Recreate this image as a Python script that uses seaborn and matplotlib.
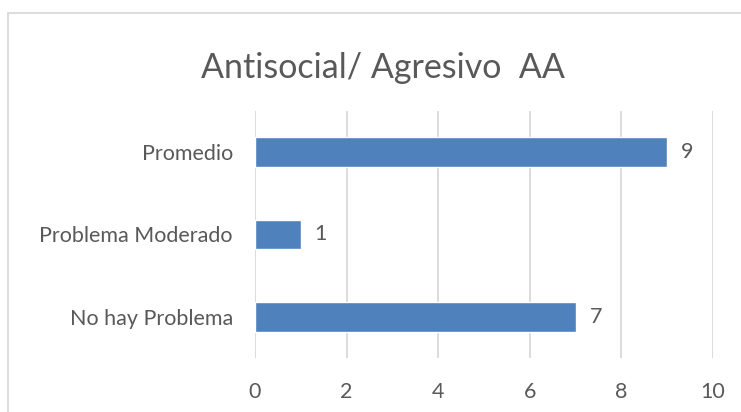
import matplotlib
matplotlib.use("Agg")
import matplotlib.pyplot as plt
import seaborn as sns
import pandas as pd
from matplotlib.patches import Rectangle

# data
categorias = ["Promedio", "Problema Moderado", "No hay Problema"]
valores = [9, 1, 7]
xticks = [0, 2, 4, 6, 8, 10]
titulo = "Antisocial/ Agresivo  AA"

df = pd.DataFrame({"categoria": categorias, "valor": valores})

sns.set_theme(style="white")
plt.rcParams['font.family'] = ['Lato', 'DejaVu Sans']

gris = "#595959"
fs = 15.5
fig = plt.figure(figsize=(7.41, 4.12), dpi=100)
ax = fig.add_axes([255/741, 1-358/412, (713-255)/741, (358-111)/412])

sns.barplot(data=df, y="categoria", x="valor", color="#4F81BD", width=0.36,
            saturation=1, ax=ax, zorder=3)
ax.bar_label(ax.containers[0], padding=10, fontsize=fs, color=gris)

ax.set_xlim(0, 10)
ax.set_xticks(xticks)
ax.set_xlabel("")
ax.set_ylabel("")
ax.grid(axis="x", color="#D9D9D9", linewidth=1.3, zorder=0)
ax.grid(axis="y", visible=False)
for s in ax.spines.values():
    s.set_visible(False)
ax.tick_params(axis="x", length=0, pad=17, labelsize=fs, labelcolor=gris)
ax.tick_params(axis="y", length=0, pad=16, labelsize=fs, labelcolor=gris)

fig.text(383/741, 1-68/412, titulo, ha="center", va="center", fontsize=24.5, color=gris)

fig.patches.append(Rectangle((8/741, -0.1), 1.2, 1.1-13/412, transform=fig.transFigure,
                             fill=False, edgecolor="#D9D9D9", linewidth=1.3))

fig.savefig("out.png", dpi=100)
